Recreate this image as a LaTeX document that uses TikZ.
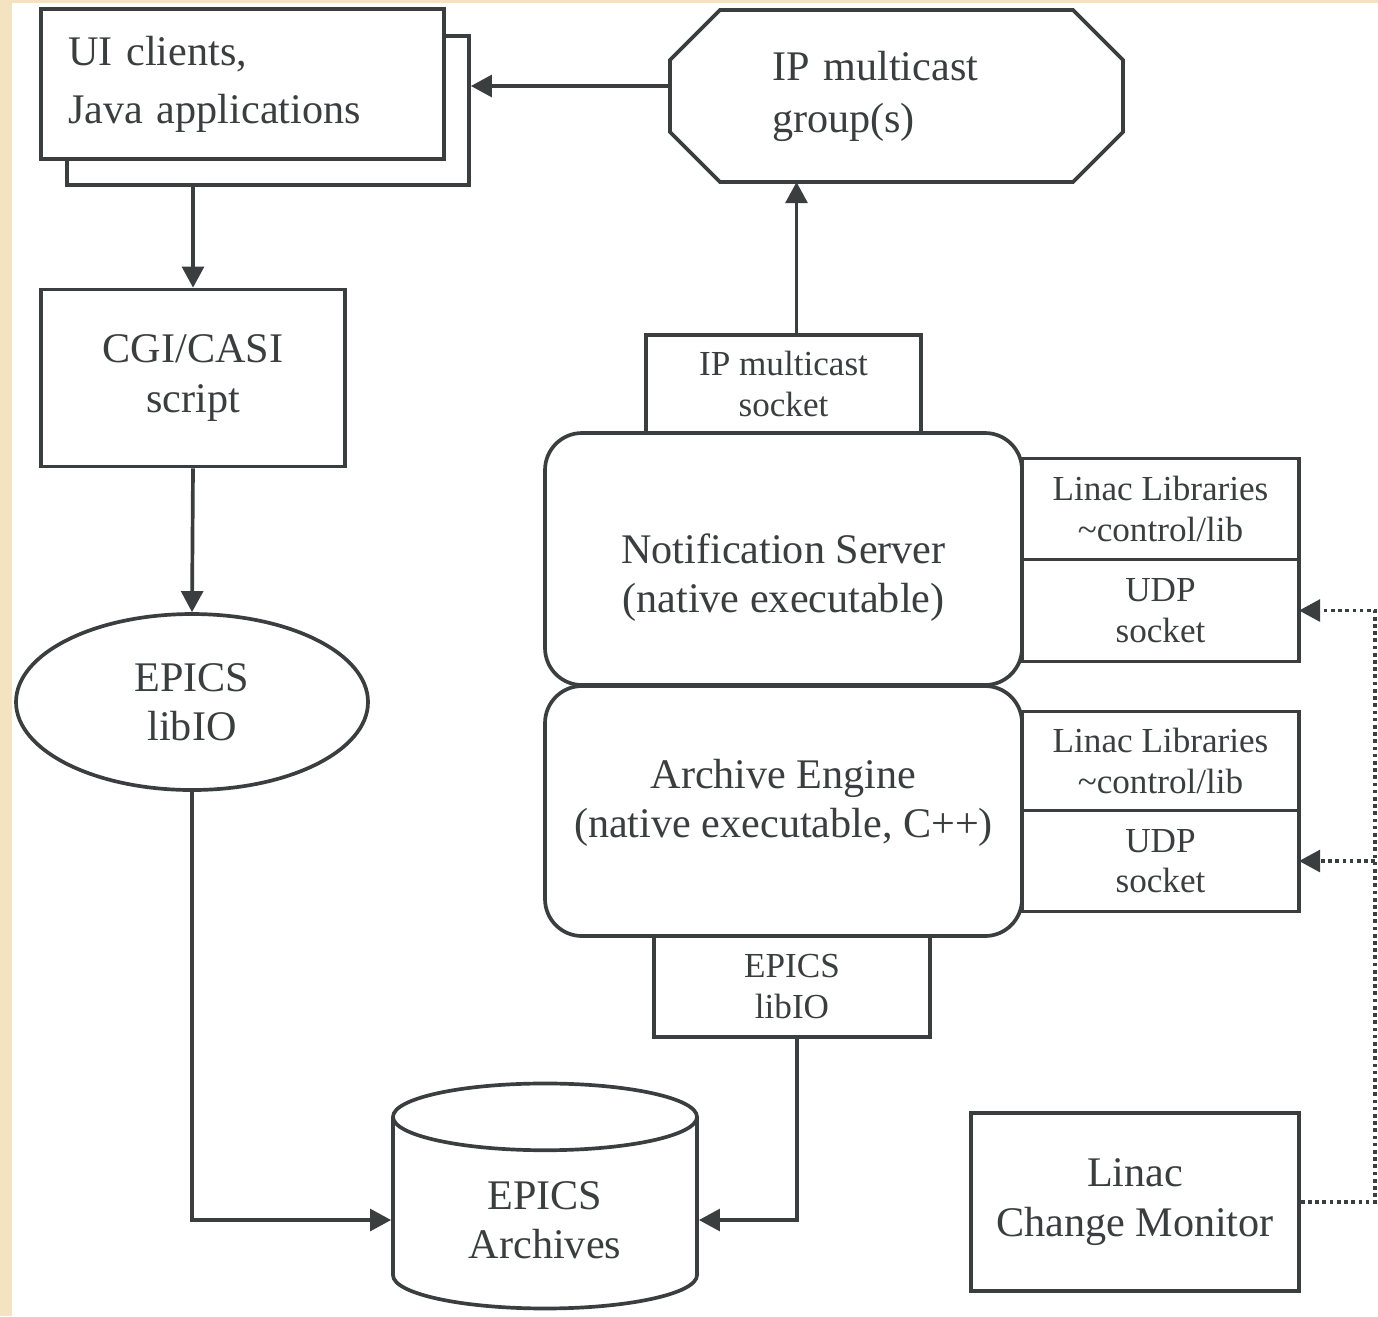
\documentclass[tikz,border=0pt]{standalone}
\usepackage{fontspec}
\setmainfont{Liberation Serif}
\usetikzlibrary{shapes.geometric,positioning,arrows.meta}
\definecolor{ink}{RGB}{58,62,62}
\definecolor{paper}{RGB}{243,227,193}

\begin{document}
\begin{tikzpicture}
  [
    color=ink, line width=1.05pt,
    box/.style={  draw,  rectangle,  inner sep=2pt,  align=center,  font=\fontsize{12}{14}\selectfont},
    small/.style={  draw,  rectangle,  outer sep=0pt,  align=center,  font=\fontsize{10}{11.5}\selectfont},
    proc/.style={  draw,  rectangle,  rounded corners=0.37cm,  align=center,  minimum width=4.77cm,  font=\fontsize{12}{14}\selectfont},
    arr/.style={-{Triangle[length=6pt,width=6.2pt]}},
    signal/.style={densely dotted, -{Triangle[length=6pt,width=6.2pt]}}
  ]
  % paper and margins
  \fill[paper] (0,0) rectangle (13.78,-13.16);
  \fill[white] (0.12,-0.03) rectangle (13.78,-13.16);
  \useasboundingbox (0,0) rectangle (13.78,-13.16);

  % left column
  \node[box, minimum width=4.02cm, minimum height=1.49cm] (uiback) at (2.68,-1.105) {};
  \node[box, fill=white, minimum height=1.5cm, text width=3.49cm, inner xsep=0.27cm, align=left,
        font=\fontsize{12}{16.5}\selectfont] (ui) at (2.425,-0.84) {UI clients,\\Java applications};
  \node[box, minimum width=3.04cm, minimum height=1.77cm] (cgi) at (1.93,-3.78) {CGI/CASI\\script};
  \node[box, ellipse, minimum width=3.52cm, minimum height=1.76cm] (epicsio) at (1.92,-7.02) {EPICS\\libIO};
  \node[cylinder, draw, shape border rotate=90, aspect=0.38, minimum width=3.04cm, minimum height=2.25cm,
        align=center, font=\fontsize{12}{14}\selectfont] (arch) at (5.45,-12.2) {EPICS\\Archives};

  % multicast group, chamfered outline drawn round the node
  \node[outer sep=0pt, minimum width=4.53cm, minimum height=1.72cm, text width=2.49cm, inner xsep=1.02cm,
        align=left, font=\fontsize{12}{14.8}\selectfont] (grp) at (8.965,-0.96) {IP multicast\\group(s)};
  \draw ([xshift=0.5cm]grp.north west) -- ([xshift=-0.5cm]grp.north east) -- ([yshift=-0.5cm]grp.north east)
     -- ([yshift=0.5cm]grp.south east) -- ([xshift=-0.5cm]grp.south east) -- ([xshift=0.5cm]grp.south west)
     -- ([yshift=0.5cm]grp.south west) -- ([yshift=-0.5cm]grp.north west) -- cycle;

  % servers
  \node[small, minimum width=2.75cm, minimum height=0.98cm] (sock) at (7.835,-3.84) {IP multicast\\socket};
  \node[proc, minimum height=2.52cm, text height=33pt] (notif) at (7.835,-5.59) {Notification Server\\(native executable)};
  \node[proc, minimum height=2.50cm, text height=17.7pt] (engine) at (7.835,-8.11) {Archive Engine\\(native executable, C++)};
  \node[small, minimum width=2.76cm, minimum height=1.01cm] (libio) at (7.92,-9.865) {EPICS\\libIO};

  \node[small, minimum width=2.77cm, minimum height=1.01cm] (lib1) at (11.605,-5.09) {Linac Libraries\\\textasciitilde control/lib};
  \node[small, minimum width=2.77cm, minimum height=1.02cm, below=0pt of lib1] (udp1) {UDP\\socket};
  \node[small, minimum width=2.77cm, minimum height=0.99cm] (lib2) at (11.605,-7.61) {Linac Libraries\\\textasciitilde control/lib};
  \node[small, minimum width=2.77cm, minimum height=1.01cm, below=0pt of lib2] (udp2) {UDP\\socket};

  \node[box, minimum width=3.28cm, minimum height=1.78cm] (mon) at (11.35,-12.02) {Linac\\Change Monitor};
  \coordinate (bus) at (13.75,0);

  % connections
  \draw[arr] ([yshift=0.1cm]grp.west) -- ([yshift=0.1cm]grp.west -| uiback.east);
  \draw[arr] (uiback.south -| cgi.north) -- (cgi.north);
  \draw[arr] (cgi.south) -- (epicsio.north);
  \draw[arr] (epicsio.south) |- (arch.west);
  \draw[arr] ([xshift=0.05cm]libio.south) |- (arch.east);
  \draw[arr] ([xshift=0.13cm]sock.north) -- ([xshift=0.13cm]sock.north |- grp.south);

  \draw[signal] (mon.east) -- (mon.east -| bus) -- (udp1.east -| bus) -- (udp1.east);
  \draw[signal] (udp2.east -| bus) -- (udp2.east);
\end{tikzpicture}
\end{document}
